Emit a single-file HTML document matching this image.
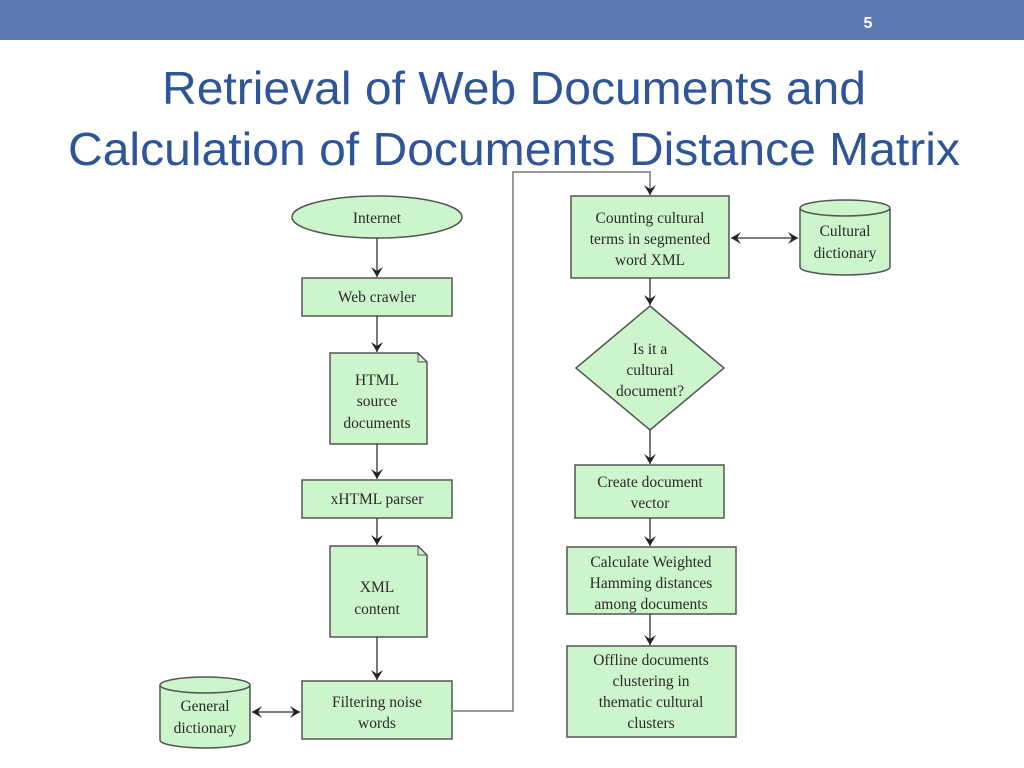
<!DOCTYPE html>
<html><head><meta charset="utf-8"><style>
html,body{margin:0;padding:0;background:#fff;width:1024px;height:768px;overflow:hidden}
</style></head><body>
<svg width="1024" height="768" viewBox="0 0 1024 768" xmlns="http://www.w3.org/2000/svg">
<defs>
<marker id="a" markerWidth="12" markerHeight="12" refX="10" refY="6" orient="auto" markerUnits="userSpaceOnUse">
<path d="M0,0 L10,6 L0,12 L4,6 Z" fill="#222"/>
</marker>
<marker id="s" markerWidth="12" markerHeight="12" refX="2" refY="6" orient="auto" markerUnits="userSpaceOnUse">
<path d="M12,0 L2,6 L12,12 L8,6 Z" fill="#222"/>
</marker>
</defs>
<rect x="0" y="0" width="1024" height="40" fill="#5f78b4"/>
<text x="868" y="28" font-family="Liberation Sans, sans-serif" font-size="16" font-weight="bold" fill="#fff" text-anchor="middle">5</text>
<g font-family="Liberation Sans, sans-serif" font-size="46" fill="#2e5597">
<text x="162" y="104" textLength="704" lengthAdjust="spacingAndGlyphs">Retrieval of Web Documents and</text>
<text x="68" y="165" textLength="892" lengthAdjust="spacingAndGlyphs">Calculation of Documents Distance Matrix</text>
</g>
<g fill="#cdf5cb" stroke="#555" stroke-width="1.5">
<ellipse cx="377" cy="217" rx="85" ry="21"/>
<rect x="302" y="278" width="150" height="38"/>
<path d="M330,353 H418 L427,362 V444 H330 Z"/>
<rect x="302" y="480" width="150" height="38"/>
<path d="M330,546 H418 L427,555 V637 H330 Z"/>
<rect x="302" y="681" width="150" height="58"/>
<path d="M160,685 V740 A45,8 0 0 0 250,740 V685"/>
<ellipse cx="205" cy="685" rx="45" ry="8"/>
<rect x="571" y="196" width="158" height="82"/>
<path d="M800,208 V267 A45,8 0 0 0 890,267 V208"/>
<ellipse cx="845" cy="208" rx="45" ry="8"/>
<path d="M650,306 L724,368 L650,430 L576,368 Z"/>
<rect x="575" y="465" width="149" height="53"/>
<rect x="567" y="547" width="169" height="67"/>
<rect x="567" y="646" width="169" height="91"/>
</g>
<path d="M418,353 V362 H427" fill="none" stroke="#555" stroke-width="1"/>
<path d="M418,546 V555 H427" fill="none" stroke="#555" stroke-width="1"/>
<g stroke="#333" stroke-width="1.3" fill="none">
<line x1="377" y1="238" x2="377" y2="277" marker-end="url(#a)"/>
<line x1="377" y1="316" x2="377" y2="352" marker-end="url(#a)"/>
<line x1="377" y1="444" x2="377" y2="479" marker-end="url(#a)"/>
<line x1="377" y1="518" x2="377" y2="545" marker-end="url(#a)"/>
<line x1="377" y1="637" x2="377" y2="680" marker-end="url(#a)"/>
<line x1="252" y1="712" x2="300" y2="712" marker-start="url(#s)" marker-end="url(#a)"/>
<line x1="650" y1="278" x2="650" y2="305" marker-end="url(#a)"/>
<line x1="650" y1="430" x2="650" y2="464" marker-end="url(#a)"/>
<line x1="650" y1="518" x2="650" y2="546" marker-end="url(#a)"/>
<line x1="650" y1="614" x2="650" y2="645" marker-end="url(#a)"/>
<line x1="731" y1="238" x2="798" y2="238" marker-start="url(#s)" marker-end="url(#a)"/>
</g>
<path d="M452,711 H513 V172 H650 V195" fill="none" stroke="#999" stroke-width="2" marker-end="url(#a)"/>
<g font-family="Liberation Serif, serif" font-size="15.5" fill="#2a2a2a" text-anchor="middle">
<text x="377" y="223">Internet</text>
<text x="377" y="302">Web crawler</text>
<text x="377" y="385">HTML</text>
<text x="377" y="406">source</text>
<text x="377" y="428">documents</text>
<text x="377" y="504">xHTML parser</text>
<text x="377" y="592">XML</text>
<text x="377" y="614">content</text>
<text x="377" y="707">Filtering noise</text>
<text x="377" y="728">words</text>
<text x="205" y="711">General</text>
<text x="205" y="733">dictionary</text>
<text x="650" y="223">Counting cultural</text>
<text x="650" y="244">terms in segmented</text>
<text x="650" y="265">word XML</text>
<text x="845" y="236">Cultural</text>
<text x="845" y="258">dictionary</text>
<text x="650" y="354">Is it a</text>
<text x="650" y="375">cultural</text>
<text x="650" y="396">document?</text>
<text x="650" y="487">Create document</text>
<text x="650" y="508">vector</text>
<text x="651" y="567">Calculate Weighted</text>
<text x="651" y="588">Hamming distances</text>
<text x="651" y="609">among documents</text>
<text x="651" y="665">Offline documents</text>
<text x="651" y="686">clustering in</text>
<text x="651" y="707">thematic cultural</text>
<text x="651" y="728">clusters</text>
</g>
</svg>
</body></html>
